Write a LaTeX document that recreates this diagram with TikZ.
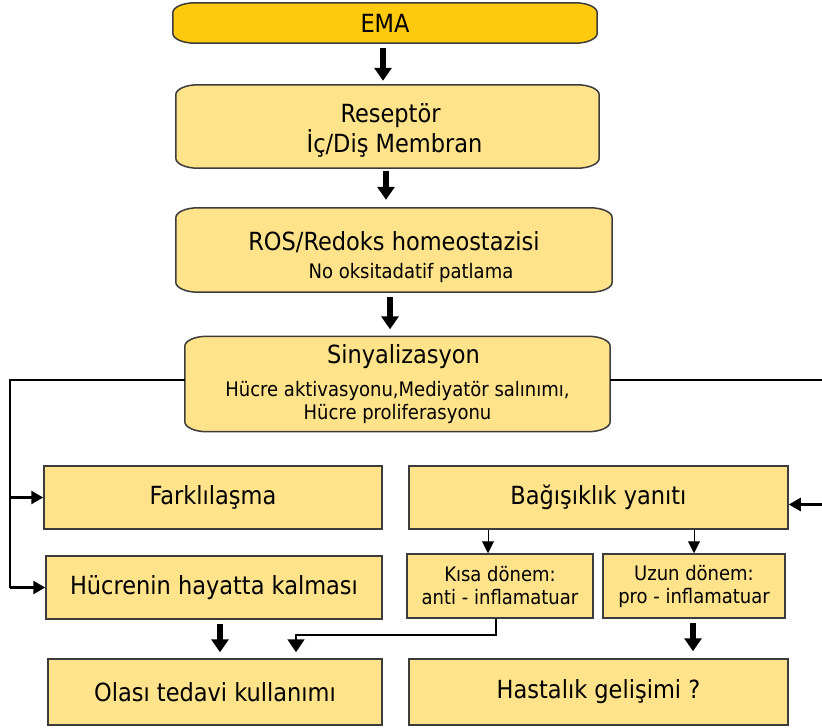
\documentclass[tikz,border=0pt]{standalone}
\usepackage{fontspec}
\setmainfont{DejaVu Sans Condensed}
\usetikzlibrary{arrows.meta,backgrounds,calc}
\definecolor{gold}{HTML}{FFC90E}
\definecolor{pale}{HTML}{FFE38B}
\definecolor{edge}{HTML}{3C3C3C}
\newcommand\bigf{\fontsize{25}{30}\selectfont}
\newcommand\subf{\fontsize{20}{23}\selectfont}
\newcommand\softshape[2]{%
  \path[fill=#2,draw=edge,line width=1.5pt]
    ([xshift=22pt]#1.north west) -- ([xshift=-22pt]#1.north east)
    arc[start angle=90,end angle=0,x radius=22pt,y radius=10pt]
    -- ([yshift=10pt]#1.south east)
    arc[start angle=0,end angle=-90,x radius=22pt,y radius=10pt]
    -- ([xshift=22pt]#1.south west)
    arc[start angle=270,end angle=180,x radius=22pt,y radius=10pt]
    -- ([yshift=-10pt]#1.north west)
    arc[start angle=180,end angle=90,x radius=22pt,y radius=10pt] -- cycle;}
\tikzset{
  softtxt/.style={inner sep=0pt, align=center, text=black, font=\bigf},
  plainbox/.style={draw=edge, fill=pale, line width=1.5pt, inner sep=0pt, align=center, text=black, font=\bigf},
  smallbox/.style={plainbox, font=\subf},
  bigarrow/.style={line width=6pt, -{Triangle[width=17pt,length=13pt]}},
  conn/.style={line width=1.5pt, black},
  sidearrow/.style={line width=2.5pt, -{Triangle[width=13pt,length=12pt]}},
  smallarrow/.style={line width=1pt, -{Triangle[width=12pt,length=12pt]}},
  bendarrow/.style={line width=1.5pt, -{Triangle[width=17pt,length=13pt]}},
}
\begin{document}
\begin{tikzpicture}[x=1pt,y=1pt]
\useasboundingbox (0,0) rectangle (822,-728);

% soft (rounded) boxes
\node[softtxt, minimum width=424pt, minimum height=40pt] (ema) at (385,-23) {EMA};
\node[softtxt, minimum width=423pt, minimum height=83pt] (resep) at (387.5,-126.5) {\rule{0pt}{27pt}\hspace*{6pt}Reseptör\\\hspace*{14pt}İç/Diş Membran};
\node[softtxt, minimum width=436pt, minimum height=84pt] (ros) at (394,-250) {\rule{0pt}{34pt}ROS/Redoks homeostazisi\\[-2pt]\subf\hspace*{34pt}No oksitadatif patlama};
\node[softtxt, minimum width=425pt, minimum height=95pt] (sin) at (397.5,-384) {\hspace*{12pt}Sinyalizasyon\\[3pt]\subf Hücre aktivasyonu,Mediyatör salınımı,\\[-7pt]\subf Hücre proliferasyonu};

\begin{scope}[on background layer]
  \fill[white] (0,0) rectangle (822,-728);
  \softshape{ema}{gold}
  \softshape{resep}{pale}
  \softshape{ros}{pale}
  \softshape{sin}{pale}
\end{scope}

% plain boxes
\node[plainbox, minimum width=338pt, minimum height=63pt] (fark) at (213,-497.5) {Farklılaşma};
\node[plainbox, minimum width=379pt, minimum height=63pt] (bag) at (598.5,-497.5) {Bağışıklık yanıtı};
\node[plainbox, minimum width=336pt, minimum height=63pt] (hucre) at (214,-587.5) {Hücrenin hayatta kalması};
\node[smallbox, minimum width=186pt, minimum height=64pt] (kisa) at (500,-586) {Kısa dönem:\\anti - inflamatuar};
\node[smallbox, minimum width=182pt, minimum height=64pt] (uzun) at (694,-586) {Uzun dönem:\\pro - inflamatuar};
\node[plainbox, minimum width=334pt, minimum height=66pt] (olasi) at (215,-692) {Olası tedavi kullanımı};
\node[plainbox, minimum width=379pt, minimum height=66pt] (hast) at (598.5,-692) {Hastalık gelişimi ?};

% main vertical arrows
\draw[bigarrow] ($(ema.south)+(-2,-5)$) -- ($(ema.south |- resep.north)+(-2,4)$);
\draw[bigarrow] ($(resep.south)+(-1.5,-3)$) -- ($(resep.south |- ros.north)+(-1.5,8)$);
\draw[bigarrow] ($(ros.south)+(-4,-5)$) -- ($(ros.south |- sin.north)+(-4,7)$);

% branches from Sinyalizasyon
\coordinate (lt) at (10,-380);
\coordinate (rt) at (830,-380);
\coordinate (bagin) at ([yshift=-7pt]bag.east);
\draw[conn] (sin.west |- lt) -- (lt) -- (lt |- hucre.west);
\draw[sidearrow] (lt |- hucre.west) -- (hucre.west);
\draw[sidearrow] (lt |- fark.west) -- (fark.west);
\draw[conn] (sin.east |- rt) -- (rt) -- (rt |- bagin);
\draw[sidearrow] (rt |- bagin) -- (bagin);

% immune response split
\draw[smallarrow] ([xshift=-12pt]kisa.north |- bag.south) -- ([xshift=-12pt]kisa.north);
\draw[smallarrow] (uzun.north |- bag.south) -- (uzun.north);

% to bottom row
\draw[bigarrow] ($(hucre.south)+(6,-4)$) -- ($(hucre.south |- olasi.north)+(6,6)$);
\draw[bendarrow, shorten >=6pt] ([xshift=-4pt]kisa.south) -- ++(0,-16) -| ([xshift=81pt]olasi.north);
\draw[bigarrow] ($(uzun.south)+(-1,-4)$) -- ($(uzun.south |- hast.north)+(-1,7)$);
\end{tikzpicture}
\end{document}
